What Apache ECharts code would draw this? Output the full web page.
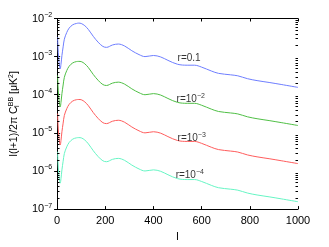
<!DOCTYPE html>
<html><head><meta charset="utf-8">
<script src="https://cdn.jsdelivr.net/npm/echarts@6/dist/echarts.min.js"></script>
<style>html,body{margin:0;padding:0;background:#fff}#c{width:329px;height:247px}</style>
</head><body><div id="c"></div>
<script>
var ells = [2,4,6,8,10,13,16,20,25,30,40,50,65,80,90,100,115,130,150,170,190,205,230,254,280,310,340,365,400,430,460,500,540,570,600,640,670,720,750,790,830,880,930,1000];
var r1e1 = [3.24e-3,1.60e-3,1.01e-3,7.1e-4,5.6e-4,4.8e-4,6.3e-4,1.07e-3,1.8e-3,2.86e-3,4.3e-3,5.6e-3,6.85e-3,7.4e-3,7.57e-3,7.4e-3,6.47e-3,5.13e-3,3.41e-3,2.4e-3,1.85e-3,1.75e-3,2.02e-3,2.14e-3,1.9e-3,1.43e-3,1.13e-3,1.0e-3,1.07e-3,9.8e-4,7.98e-4,6.3e-4,5.96e-4,5.96e-4,5.3e-4,4.2e-4,3.64e-4,3.33e-4,3.14e-4,2.64e-4,2.35e-4,2.1e-4,1.86e-4,1.56e-4];
var r1e2 = [3.2e-4,1.6e-4,1.0e-4,7.1e-5,5.6e-5,4.8e-5,6.3e-5,1.07e-4,1.8e-4,2.86e-4,4.3e-4,5.6e-4,6.85e-4,7.4e-4,7.5e-4,7.4e-4,6.47e-4,5.13e-4,3.41e-4,2.4e-4,1.85e-4,1.75e-4,2.02e-4,2.14e-4,1.9e-4,1.43e-4,1.13e-4,1.0e-4,1.07e-4,9.8e-5,7.98e-5,6.3e-5,5.96e-5,5.96e-5,5.3e-5,4.2e-5,3.64e-5,3.33e-5,3.14e-5,2.64e-5,2.35e-5,2.1e-5,1.86e-5,1.56e-5];
var r1e3 = [3.2e-5,1.6e-5,1.0e-5,7.1e-6,5.6e-6,4.8e-6,6.3e-6,1.07e-5,1.8e-5,2.86e-5,4.3e-5,5.6e-5,6.85e-5,7.4e-5,7.5e-5,7.4e-5,6.47e-5,5.13e-5,3.41e-5,2.4e-5,1.85e-5,1.75e-5,2.02e-5,2.14e-5,1.9e-5,1.43e-5,1.13e-5,1.0e-5,1.07e-5,9.8e-6,7.98e-6,6.3e-6,5.96e-6,5.96e-6,5.3e-6,4.2e-6,3.64e-6,3.33e-6,3.14e-6,2.64e-6,2.35e-6,2.1e-6,1.86e-6,1.56e-6];
var r1e4 = [3.2e-6,1.6e-6,1.0e-6,7.1e-7,5.6e-7,4.8e-7,6.3e-7,1.07e-6,1.8e-6,2.86e-6,4.3e-6,5.6e-6,6.85e-6,7.4e-6,7.5e-6,7.4e-6,6.47e-6,5.13e-6,3.41e-6,2.4e-6,1.85e-6,1.75e-6,2.02e-6,2.14e-6,1.9e-6,1.43e-6,1.13e-6,1.0e-6,1.07e-6,9.8e-7,7.98e-7,6.3e-7,5.96e-7,5.96e-7,5.3e-7,4.2e-7,3.64e-7,3.33e-7,3.14e-7,2.64e-7,2.35e-7,2.1e-7,1.86e-7,1.56e-7];
var seriesNames = ['r=0.1','r=1e-2','r=1e-3','r=1e-4'];
var labelTexts = ['{b|r=0.1}','{b|r=10}{s|\u22122}','{b|r=10}{s|\u22123}','{b|r=10}{s|\u22124}'];
var labelPos = [[500,8.9e-4],[496,7.6e-5],[500,7.4e-6],[492,7.7e-7]];
var xTicks = [0,200,400,600,800,1000];
var yMin = 1e-7, yMax = 1e-2;
var minorTickVals = [];
for (var e = -7; e < -2; e++) for (var k = 2; k <= 9; k++) minorTickVals.push(k * Math.pow(10, e));
var colors = ['#6e7eff','#4fbf45','#ff5c5c','#66f5c4'];

function zip(a, b){ return a.map(function(v,i){ return [v, b[i]]; }); }
var allData = [r1e1, r1e2, r1e3, r1e4];
var FONT = 'Liberation Sans, Arial, sans-serif';
var chart = echarts.init(document.getElementById('c'), null, {renderer:'canvas'});
var series = allData.map(function(d, i){
  return {type:'line', name:seriesNames[i], data:zip(ells, d), showSymbol:false, smooth:0.35,
    lineStyle:{color:colors[i], width:1}, itemStyle:{color:colors[i]}, z:3};
});
series.push({type:'scatter', data:labelPos, symbolSize:0,
  label:{show:true, position:'right', distance:0, formatter:function(p){return labelTexts[p.dataIndex];},
    rich:{b:{fontSize:10, fontFamily:FONT, color:'#000'}, s:{fontSize:7, fontFamily:FONT, color:'#000', verticalAlign:'top', padding:[0,0,6,0]}}}, z:5});
var minorData = [];
minorTickVals.forEach(function(v){ minorData.push([0, v]); minorData.push([1, v]); });
series.push({type:'custom', data:minorData, silent:true, z:6, clip:false,
  renderItem:function(params, api){
    var side = api.value(0), v = api.value(1);
    var p = api.coord([side ? 1000 : 0, v]);
    var x0 = Math.round(p[0]);
    var x1 = side ? x0 - 2.5 : x0 + 2.5;
    var y = Math.round(p[1]) + 0.5;
    return {type:'line', shape:{x1:x0, y1:y, x2:x1, y2:y}, style:{stroke:'#000', lineWidth:1}};
  }});
var yLabelRich = {b:{fontSize:11, fontFamily:FONT, color:'#000'}, s:{fontSize:7, fontFamily:FONT, color:'#000', verticalAlign:'top', padding:[0,0,7,0]}};
function yFmt(v){ var ex = Math.round(Math.log10(v)); return '{b|10}{s|\u2212' + (-ex) + '}'; }
chart.setOption({
  animation:false,
  grid:{left:46, right:31, top:18.5, bottom:31, containLabel:false},
  xAxis:[{type:'value', min:0, max:1000, interval:200, position:'bottom',
      name:'l', nameLocation:'middle', nameGap:20, nameTextStyle:{fontSize:11, fontFamily:FONT, color:'#000'},
      axisLine:{show:true, lineStyle:{color:'#000', width:1}}, axisTick:{show:true, inside:true, length:3, lineStyle:{color:'#000'}},
      axisLabel:{fontSize:11, fontFamily:FONT, color:'#000', margin:6, formatter:function(v){return String(v);}}, splitLine:{show:false}},
    {type:'value', min:0, max:1000, interval:200, position:'top',
      axisLine:{show:true, lineStyle:{color:'#000', width:1}}, axisTick:{show:true, inside:true, length:3, lineStyle:{color:'#000'}},
      axisLabel:{show:false}, splitLine:{show:false}}],
  yAxis:[{type:'log', logBase:10, min:yMin, max:yMax, position:'left',
      name:'l(l+1)/2\u03c0 C{sub|l}{sup|BB} [\u03bcK{sup2|2}]', nameLocation:'middle', nameRotate:90, nameGap:31,
      nameTextStyle:{fontSize:10.5, fontFamily:FONT, color:'#000',
        rich:{sub:{fontSize:7, fontFamily:FONT, color:'#000', width:0.1, verticalAlign:'bottom', padding:[4,0,0,0]},
              sup:{fontSize:7, fontFamily:FONT, color:'#000', verticalAlign:'top', padding:[0,0,6,0]},
              sup2:{fontSize:7, fontFamily:FONT, color:'#000', verticalAlign:'top', padding:[0,0,6,0]}}},
      axisLine:{show:true, lineStyle:{color:'#000', width:1}}, axisTick:{show:true, inside:true, length:3, lineStyle:{color:'#000'}},
      axisLabel:{formatter:yFmt, rich:yLabelRich, margin:5}, splitLine:{show:false}},
    {type:'log', logBase:10, min:yMin, max:yMax, position:'right',
      axisLine:{show:true, lineStyle:{color:'#000', width:1}}, axisTick:{show:true, inside:true, length:3, lineStyle:{color:'#000'}},
      axisLabel:{show:false}, splitLine:{show:false}}],
  series:series
});
</script></body></html>
